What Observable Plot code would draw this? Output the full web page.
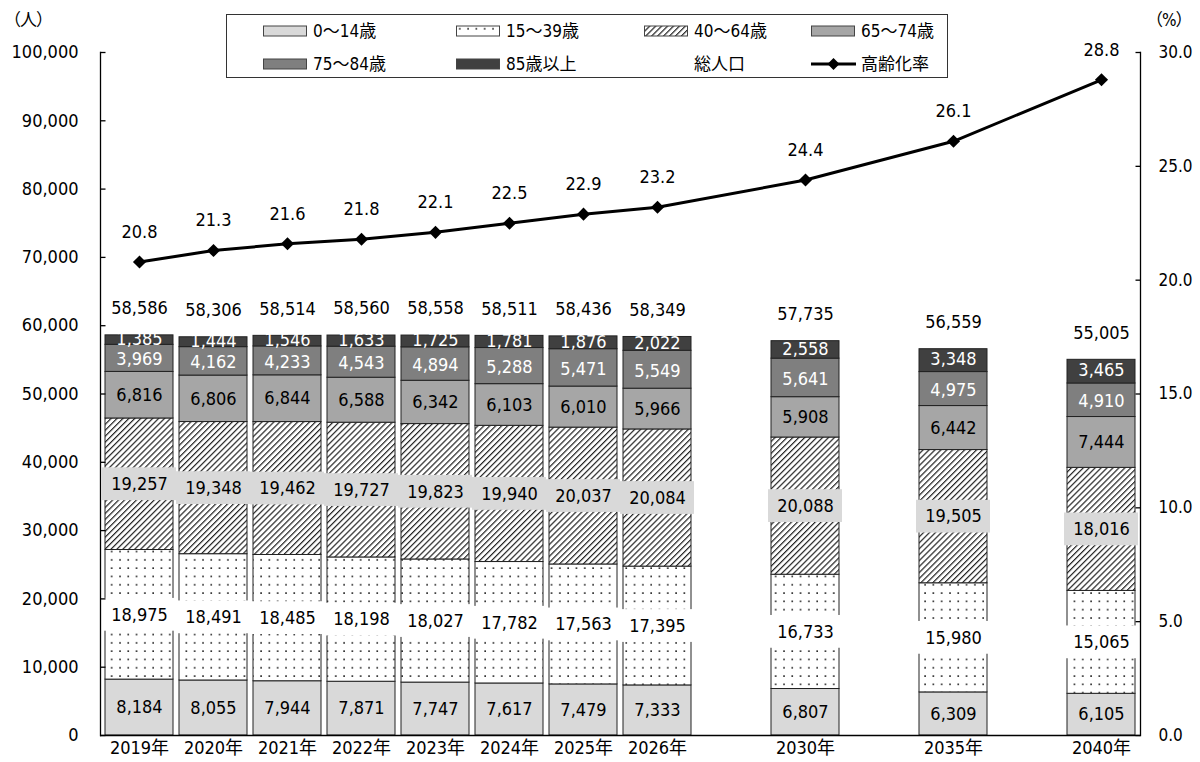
<!DOCTYPE html>
<html>
<head>
<meta charset="utf-8">
<script src="https://cdn.jsdelivr.net/npm/d3@7"></script>
<script src="https://cdn.jsdelivr.net/npm/@observablehq/plot@0.6"></script>
<style>
  body { margin: 0; background: #fff; }
  #wrap { position: relative; width: 1200px; height: 762px; font-family: "DejaVu Sans Condensed", "Noto Sans CJK JP", sans-serif; color: #000; }
  #legend { position: absolute; left: 226px; top: 14px; width: 722px; height: 64px; border: 1px solid #333; box-sizing: border-box; background: #fff; z-index: 2; }
  .item { position: absolute; display: flex; align-items: center; font-size: 17px; line-height: 20px; white-space: nowrap; }
  .item svg { margin-right: 5px; }
  .unit { position: absolute; font-size: 17px; top: 6px; letter-spacing: -1px; white-space: nowrap; }
</style>
</head>
<body>
<svg width="0" height="0" style="position:absolute">
  <defs>
    <pattern id="dots" width="8.3" height="8.3" patternUnits="userSpaceOnUse">
      <rect width="8.3" height="8.3" fill="#fff"></rect>
      <rect x="3" y="3" width="1.6" height="1.6" fill="#222"></rect>
    </pattern>
    <pattern id="hatch" width="4.2" height="4.2" patternUnits="userSpaceOnUse" patternTransform="rotate(45)">
      <rect width="4.2" height="4.2" fill="#fff"></rect>
      <line x1="0" y1="0" x2="0" y2="4.2" stroke="#222" stroke-width="2.4"></line>
    </pattern>
  </defs>
</svg>
<div id="wrap">
  <div class="unit" style="left:4px">（人）</div>
  <div class="unit" style="left:1146px">（%）</div>
  <div id="legend"></div>
  <div id="chart"></div>
</div>
<script>
// ---- data ----
const years = ["2019年","2020年","2021年","2022年","2023年","2024年","2025年","2026年","2030年","2035年","2040年"];
const seriesNames = ["0～14歳","15～39歳","40～64歳","65～74歳","75～84歳","85歳以上"];
const age0_14  = [8184, 8055, 7944, 7871, 7747, 7617, 7479, 7333, 6807, 6309, 6105];
const age15_39 = [18975, 18491, 18485, 18198, 18027, 17782, 17563, 17395, 16733, 15980, 15065];
const age40_64 = [19257, 19348, 19462, 19727, 19823, 19940, 20037, 20084, 20088, 19505, 18016];
const age65_74 = [6816, 6806, 6844, 6588, 6342, 6103, 6010, 5966, 5908, 6442, 7444];
const age75_84 = [3969, 4162, 4233, 4543, 4894, 5288, 5471, 5549, 5641, 4975, 4910];
const age85up  = [1385, 1444, 1546, 1633, 1725, 1781, 1876, 2022, 2558, 3348, 3465];
const totalPop = [58586, 58306, 58514, 58560, 58558, 58511, 58436, 58349, 57735, 56559, 55005];
const agingRate = [20.8, 21.3, 21.6, 21.8, 22.1, 22.5, 22.9, 23.2, 24.4, 26.1, 28.8];
const yTicksLeft = [0, 10000, 20000, 30000, 40000, 50000, 60000, 70000, 80000, 90000, 100000];
const yTicksRight = [0, 5, 10, 15, 20, 25, 30];

// ---- styles ----
const seriesFills = ["#d9d9d9", "url(#dots)", "url(#hatch)", "#a6a6a6", "#7f7f7f", "#404040"];
const rightMax = 30, leftMax = 100000;
const FONT = "'DejaVu Sans Condensed', 'Noto Sans CJK JP', sans-serif";

// ---- derived tables ----
const allSeries = [age0_14, age15_39, age40_64, age65_74, age75_84, age85up];
const rows = [];
years.forEach((yr, i) => {
  let base = 0;
  allSeries.forEach((arr, s) => {
    const v = arr[i];
    rows.push({year: yr, series: seriesNames[s], value: v, mid: base + v / 2});
    base += v;
  });
});
const tot = years.map((yr, i) => ({year: yr, total: totalPop[i], rate: agingRate[i]}));

// x domain with blank slots between the future years
const xDomain = [];
years.forEach((yr, i) => {
  if (i > 0 && +yr.slice(0, 4) - +years[i - 1].slice(0, 4) > 1) xDomain.push("gap" + i);
  xDomain.push(yr);
});

const fmt = d3.format(",");
const boxHalf = 2400;
const toLeft = r => r * leftMax / rightMax;
const bySeries = name => rows.filter(d => d.series === name);

const tickRight = {draw(ctx) { ctx.moveTo(0, 0); ctx.lineTo(5, 0); }};
const tickLeft = {draw(ctx) { ctx.moveTo(0, 0); ctx.lineTo(-5, 0); }};

const plot = Plot.plot({
  width: 1200,
  height: 762,
  marginLeft: 100,
  marginRight: 60,
  marginTop: 52,
  marginBottom: 27,
  style: {fontSize: "18px", fontFamily: FONT, color: "#000", background: "transparent"},
  x: {domain: xDomain, paddingInner: 0.085, paddingOuter: 0.03, label: null},
  y: {domain: [0, leftMax], label: null},
  color: {domain: seriesNames, range: seriesFills},
  marks: [
    Plot.barY(rows, Plot.stackY({x: "year", y: "value", fill: "series", stroke: "#222", strokeWidth: 1})),
    Plot.barY(bySeries("15～39歳"), {x: "year", y1: d => d.mid - boxHalf, y2: d => d.mid + boxHalf, fill: "#fff", insetLeft: -3, insetRight: -3}),
    Plot.barY(bySeries("40～64歳"), {x: "year", y1: d => d.mid - boxHalf, y2: d => d.mid + boxHalf, fill: "#d9d9d9", insetLeft: -3, insetRight: -3}),
    Plot.text(rows.filter(d => ["0～14歳", "15～39歳", "40～64歳", "65～74歳"].includes(d.series)), {x: "year", y: "mid", text: d => fmt(d.value), fill: "#000"}),
    Plot.text(bySeries("75～84歳"), {x: "year", y: "mid", dy: 1, text: d => fmt(d.value), fill: "#fff"}),
    Plot.text(bySeries("85歳以上"), {x: "year", y: "mid", dy: -1, text: d => fmt(d.value), fill: "#fff"}),
    Plot.text(tot, {x: "year", y: "total", dy: -27, text: d => fmt(d.total), fill: "#000"}),
    Plot.line(tot, {x: "year", y: d => toLeft(d.rate), stroke: "#000", strokeWidth: 3}),
    Plot.dot(tot, {x: "year", y: d => toLeft(d.rate), symbol: "diamond2", r: 5.9, fill: "#000", stroke: "none"}),
    Plot.text(tot, {x: "year", y: d => toLeft(d.rate), dy: -30, text: d => d.rate.toFixed(1), fill: "#000"}),
    Plot.ruleY([0], {stroke: "#000", strokeWidth: 1.3}),
    Plot.frame({anchor: "left", stroke: "#000", strokeWidth: 1.3}),
    Plot.frame({anchor: "right", stroke: "#000", strokeWidth: 1.3}),
    Plot.dot(yTicksLeft, {y: d => d, frameAnchor: "left", symbol: tickRight, stroke: "#000", strokeWidth: 1.3}),
    Plot.dot(yTicksRight, {y: d => toLeft(d), frameAnchor: "right", symbol: tickLeft, stroke: "#000", strokeWidth: 1.3}),
    Plot.axisY({anchor: "left", ticks: yTicksLeft, tickFormat: fmt, tickSize: 0, tickPadding: 22, label: null}),
    Plot.axisY({anchor: "right", ticks: yTicksRight.map(toLeft), tickFormat: v => (v * rightMax / leftMax).toFixed(1), tickSize: 0, tickPadding: 18, fontSize: 17, label: null}),
    Plot.axisX({tickSize: 0, tickPadding: 6, tickFormat: d => d.startsWith("gap") ? "" : d, label: null})
  ]
});
plot.style.position = "absolute";
plot.style.left = "0";
plot.style.top = "0";
document.getElementById("chart").appendChild(plot);

// ---- legend ----
const legendItems = [
  {label: "0～14歳", fill: seriesFills[0], col: 0, row: 0},
  {label: "15～39歳", fill: seriesFills[1], col: 1, row: 0},
  {label: "40～64歳", fill: seriesFills[2], col: 2, row: 0},
  {label: "65～74歳", fill: seriesFills[3], col: 3, row: 0},
  {label: "75～84歳", fill: seriesFills[4], col: 0, row: 1},
  {label: "85歳以上", fill: seriesFills[5], col: 1, row: 1},
  {label: "総人口", fill: "none", col: 2, row: 1, blank: true},
  {label: "高齢化率", line: true, col: 3, row: 1}
];
const colX = [36, 229, 417, 584];
const rowY = [6, 39];
const leg = document.getElementById("legend");
legendItems.forEach(it => {
  const div = document.createElement("div");
  div.className = "item";
  div.style.left = colX[it.col] + "px";
  div.style.top = rowY[it.row] + "px";
  let sw;
  if (it.line) {
    sw = `<svg width="45" height="14"><line x1="0" y1="7" x2="45" y2="7" stroke="#000" stroke-width="3"/><path d="M22.5,1 L28.5,7 L22.5,13 L16.5,7 Z" fill="#000"/></svg>`;
  } else if (it.blank) {
    sw = `<svg width="45" height="12"></svg>`;
  } else {
    sw = `<svg width="45" height="12"><rect x="0.5" y="1" width="43" height="10" fill="${it.fill}" stroke="#444" stroke-width="1"/></svg>`;
  }
  div.innerHTML = sw + `<span>${it.label}</span>`;
  leg.appendChild(div);
});
</script>
</body>
</html>
